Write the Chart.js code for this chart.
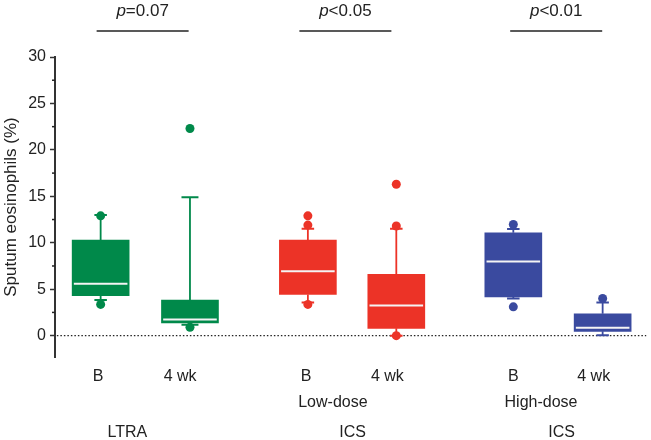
<!DOCTYPE html>
<html>
<head>
<meta charset="utf-8">
<script src="https://cdn.jsdelivr.net/npm/chart.js@4.4.1/dist/chart.umd.min.js"></script>
<style>
  html, body { margin: 0; padding: 0; background: #fff; }
</style>
</head>
<body>
<canvas id="boxChart" width="651" height="440"></canvas>
<script>
// --- data ---
const positions   = [0, 1, 2.32, 3.31, 4.62, 5.62];
const boxColors   = ['#00894a', '#00894a', '#ec3327', '#ec3327', '#3a4a9f', '#3a4a9f'];
const whiskerLow  = [3.85, 1.18, 3.57, 0.0, 4.0, 0.04];
const q1          = [4.3, 1.36, 4.43, 0.79, 4.18, 0.46];
const median      = [5.6, 1.75, 6.93, 3.25, 7.97, 0.86];
const q3          = [10.3, 3.82, 10.3, 6.6, 11.07, 2.36];
const whiskerHigh = [13.0, 14.9, 11.5, 11.5, 11.47, 3.57];
const outliers    = [[12.9, 3.36], [22.3, 0.9], [12.9, 11.9, 3.36], [16.3, 11.8, 0.0], [11.96, 3.1], [4.0]];
const capHalf     = [0.07, 0.095, 0.07, 0.07, 0.07, 0.07];

const xTickPos    = [-0.03, 0.89, 2.3, 3.21, 4.62, 5.52];
const xTickLabels = ['B', '4 wk', 'B', '4 wk', 'B', '4 wk'];
const yTickValues = [0, 2.5, 5, 7.5, 10, 12.5, 15, 17.5, 20, 22.5, 25, 27.5, 30];

const groupRow1 = ['Low-dose', 'High-dose'];
const groupRow1Pos = [2.6, 4.93];
const groupRow2 = ['LTRA', 'ICS', 'ICS'];
const groupRow2Pos = [0.3, 2.82, 5.16];

const pLabels  = ['=0.07', '<0.05', '<0.01'];
const pCenters = [0.47, 2.74, 5.1];

const xMin = -0.511, xMax = 6.111;
const boxHalf = 0.3;

Chart.defaults.font.family = "'Liberation Sans', Arial, sans-serif";
Chart.defaults.color = '#222';

// --- datasets ---
const datasets = [];

// outliers on top
positions.forEach((p, i) => {
    datasets.push({
        type: 'scatter',
        data: outliers[i].map(v => ({ x: p, y: v })),
        pointRadius: 4.5,
        pointBackgroundColor: boxColors[i],
        pointBorderWidth: 0,
        order: 0
    });
});

function seg(x1, y1, x2, y2, color, width, order) {
    return {
        type: 'line',
        data: [{ x: x1, y: y1 }, { x: x2, y: y2 }],
        borderColor: color,
        borderWidth: width,
        pointRadius: 0,
        fill: false,
        tension: 0,
        order: order
    };
}

positions.forEach((p, i) => {
    // median
    datasets.push(seg(p - boxHalf, median[i], p + boxHalf, median[i], '#f4f4f4', 2, 1));
    // caps
    datasets.push(seg(p - capHalf[i], whiskerHigh[i], p + capHalf[i], whiskerHigh[i], boxColors[i], 2, 2));
    datasets.push(seg(p - capHalf[i], whiskerLow[i], p + capHalf[i], whiskerLow[i], boxColors[i], 2, 2));
    // whiskers
    datasets.push(seg(p, q3[i], p, whiskerHigh[i], boxColors[i], 1.8, 3));
    datasets.push(seg(p, q1[i], p, whiskerLow[i], boxColors[i], 1.8, 3));
});

// boxes
datasets.push({
    type: 'bar',
    data: positions.map((p, i) => ({ x: p, y: [q1[i], q3[i]] })),
    backgroundColor: boxColors,
    borderWidth: 0,
    barThickness: 57,
    order: 4
});

// dotted zero line
datasets.push({
    type: 'line',
    data: [{ x: -0.49, y: 0 }, { x: xMax, y: 0 }],
    borderColor: '#222',
    borderWidth: 1.2,
    borderDash: [1.5, 2],
    pointRadius: 0,
    order: 5
});

// --- annotations: p values, group labels, minor ticks ---
const annotations = {
    id: 'annotations',
    afterDraw(chart) {
        const c = chart.ctx;
        const xs = chart.scales.x, ys = chart.scales.y;
        c.save();
        c.fillStyle = '#222';
        c.strokeStyle = '#222';
        c.textBaseline = 'middle';

        // minor y ticks
        c.lineWidth = 1.5;
        yTickValues.filter(v => v % 5 !== 0).forEach(v => {
            const y = ys.getPixelForValue(v);
            c.beginPath();
            c.moveTo(ys.right - 3, y);
            c.lineTo(ys.right, y);
            c.stroke();
        });

        // p values
        pLabels.forEach((t, i) => {
            const cx = xs.getPixelForValue(pCenters[i]);
            c.font = "italic 17px 'Liberation Sans', Arial";
            const wp = c.measureText('p').width;
            c.font = "17px 'Liberation Sans', Arial";
            const wt = c.measureText(t).width;
            const left = cx - (wp + wt) / 2;
            c.textAlign = 'left';
            c.font = "italic 17px 'Liberation Sans', Arial";
            c.fillText('p', left, 11);
            c.font = "17px 'Liberation Sans', Arial";
            c.fillText(t, left + wp, 11);
            c.lineWidth = 1.5;
            c.beginPath();
            c.moveTo(cx - 46, 31);
            c.lineTo(cx + 46, 31);
            c.stroke();
        });

        // group labels
        c.font = "16px 'Liberation Sans', Arial";
        c.textAlign = 'center';
        groupRow1.forEach((t, i) => c.fillText(t, xs.getPixelForValue(groupRow1Pos[i]), 403));
        groupRow2.forEach((t, i) => c.fillText(t, xs.getPixelForValue(groupRow2Pos[i]), 433));
        c.restore();
    }
};

const ctx = document.getElementById('boxChart').getContext('2d');
const boxChart = new Chart(ctx, {
    type: 'scatter',
    data: { datasets: datasets },
    options: {
        responsive: false,
        animation: false,
        layout: { padding: { top: 57, left: 0, right: 0, bottom: 0 } },
        plugins: { legend: { display: false }, tooltip: { enabled: false } },
        scales: {
            x: {
                type: 'linear',
                min: xMin,
                max: xMax,
                offset: false,
                grid: { display: false, drawTicks: false },
                border: { display: false },
                afterBuildTicks: s => { s.ticks = xTickPos.map(v => ({ value: v })); },
                ticks: {
                    padding: 10,
                    autoSkip: false,
                    maxRotation: 0,
                    font: { size: 16 },
                    callback: (v, i) => xTickLabels[i]
                },
                afterFit: s => { s.height = 83; }
            },
            y: {
                type: 'linear',
                min: -2.3,
                max: 30,
                afterBuildTicks: s => { s.ticks = yTickValues.map(v => ({ value: v })); },
                grid: {
                    drawOnChartArea: false,
                    tickLength: 5,
                    tickWidth: 1.5,
                    color: c => (c.tick && c.tick.value % 5 !== 0) ? 'rgba(0,0,0,0)' : '#333'
                },
                border: { color: '#333', width: 2 },
                ticks: {
                    padding: 4,
                    font: { size: 16 },
                    callback: v => (v % 5 === 0 ? String(v) : '')
                },
                title: {
                    display: true,
                    text: 'Sputum eosinophils (%)',
                    font: { size: 17 },
                    padding: { top: 1, bottom: 0 }
                },
                afterFit: s => { s.width = 55; }
            }
        }
    },
    plugins: [annotations]
});
</script>
</body>
</html>
